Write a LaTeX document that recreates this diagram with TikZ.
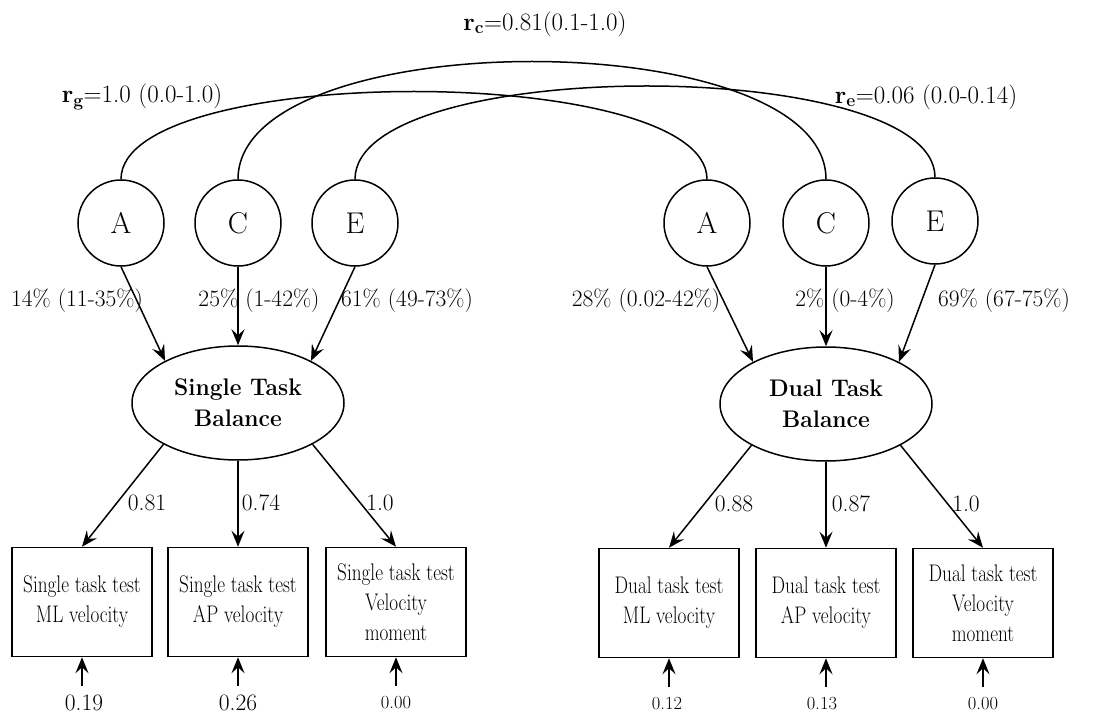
\documentclass[tikz,border=0pt]{standalone}
\usepackage{graphicx}
\usetikzlibrary{arrows.meta,shapes.geometric}
\newcommand\cx[1]{\scalebox{0.8}[1]{#1}}
\newcommand\bx[1]{\scalebox{0.95}[1]{#1}}
\begin{document}
\begin{tikzpicture}[x=1pt,y=-1pt, line width=1.5pt,
  lat/.style={circle,draw,minimum size=86pt,inner sep=0pt,font=\fontsize{30}{36}\selectfont},
  fac/.style={ellipse,draw,minimum width=212pt,minimum height=114pt,inner sep=0pt,align=center,font=\fontsize{24}{31}\selectfont\bfseries},
  obs/.style={rectangle,draw,minimum width=140pt,minimum height=109pt,inner sep=0pt,align=center,font=\fontsize{24}{30}\selectfont},
  lbl/.style={inner sep=0pt,font=\fontsize{23.5}{27}\selectfont},
  rlbl/.style={inner sep=0pt,font=\fontsize{25}{29}\selectfont},
  sml/.style={inner sep=0pt,font=\fontsize{18.5}{22}\selectfont},
  arr/.style={-{Stealth[length=16pt,width=13pt,inset=6pt]}},
]
\path[use as bounding box] (0,0) rectangle (1114,714);

% latent ACE circles
\node[lat] (A1) at (121,223) {A};
\node[lat] (C1) at (238,223) {C};
\node[lat] (E1) at (355,223) {E};
\node[lat] (A2) at (707,223) {A};
\node[lat] (C2) at (826,223) {C};
\node[lat] (E2) at (935,221) {E};

% correlation curves
\draw (A1.north) .. controls +(0,-117) and +(0,-117) .. (A2.north);
\draw (C1.north) .. controls +(0,-157) and +(0,-157) .. (C2.north);
\draw (E1.north) .. controls +(0,-124) and +(0,-122) .. (E2.north);

\node[rlbl] (rc) at (545,24) {{\bfseries r\textsubscript{c}}=0.81(0.1-1.0)};
\node[rlbl] (rg) at (142,97) {{\bfseries r\textsubscript{g}}=1.0 (0.0-1.0)};
\node[rlbl] (re) at (926,97) {{\bfseries r\textsubscript{e}}=0.06 (0.0-0.14)};

% factors
\node[fac] (F1) at (238,403) {\bx{Single Task}\\\bx{Balance}};
\node[fac] (F2) at (826,404) {\bx{Dual Task}\\\bx{Balance}};

\draw[arr] (A1.south) -- (F1.150);
\draw[arr] (C1) -- (F1);
\draw[arr] (E1.south) -- (F1.30);
\draw[arr] (A2.south) -- (F2.150);
\draw[arr] (C2) -- (F2);
\draw[arr] (E2.south) -- (F2.30);

\node[lbl] (p1) at (77,301) {14\% (11-35\%)};
\node[lbl] (p2) at (259,301) {25\% (1-42\%)};
\node[lbl] (p3) at (407,301) {61\% (49-73\%)};
\node[lbl] (p4) at (646,301) {28\% (0.02-42\%)};
\node[lbl] (p5) at (845,301) {2\% (0-4\%)};
\node[lbl] (p6) at (1004,301) {69\% (67-75\%)};

% observed boxes
\node[obs] (B1) at (82,602) {\cx{Single task test}\\\cx{ML velocity}};
\node[obs] (B2) at (238,602) {\cx{Single task test}\\\cx{AP velocity}};
\node[obs] (B3) at (396,602) {\cx{Single task test}\\\cx{Velocity}\\\cx{moment}};
\node[obs] (B4) at (669,603) {\cx{Dual task test}\\\cx{ML velocity}};
\node[obs] (B5) at (826,603) {\cx{Dual task test}\\\cx{AP velocity}};
\node[obs] (B6) at (983,603) {\cx{Dual task test}\\\cx{Velocity}\\\cx{moment}};

\draw[arr] (F1.209) -- (B1.north);
\draw[arr] (F1) -- (B2);
\draw[arr] (F1.331) -- (B3.north);
\draw[arr] (F2.209) -- (B4.north);
\draw[arr] (F2) -- (B5);
\draw[arr] (F2.331) -- (B6.north);

\node[lbl] (l1) at (147,503) {0.81};
\node[lbl] (l2) at (261,503) {0.74};
\node[lbl] (l3) at (380,503) {1.0};
\node[lbl] (l4) at (734,504) {0.88};
\node[lbl] (l5) at (851,504) {0.87};
\node[lbl] (l6) at (966,504) {1.0};

% residual arrows
\coordinate (u1) at (82,686);
\coordinate (u2) at (238,686);
\coordinate (u3) at (396,686);
\coordinate (u4) at (669,687);
\coordinate (u5) at (826,687);
\coordinate (u6) at (983,687);
\draw[arr] (u1) -- (B1.south);
\draw[arr] (u2) -- (B2.south);
\draw[arr] (u3) -- (B3.south);
\draw[arr] (u4) -- (B4.south);
\draw[arr] (u5) -- (B5.south);
\draw[arr] (u6) -- (B6.south);

\node[lbl] (n1) at (84,703) {0.19};
\node[lbl] (n2) at (238,703) {0.26};
\node[sml] (n3) at (396,703) {0.00};
\node[sml] (n4) at (667,704) {0.12};
\node[sml] (n5) at (822,704) {0.13};
\node[sml] (n6) at (983,704) {0.00};
\end{tikzpicture}
\end{document}
